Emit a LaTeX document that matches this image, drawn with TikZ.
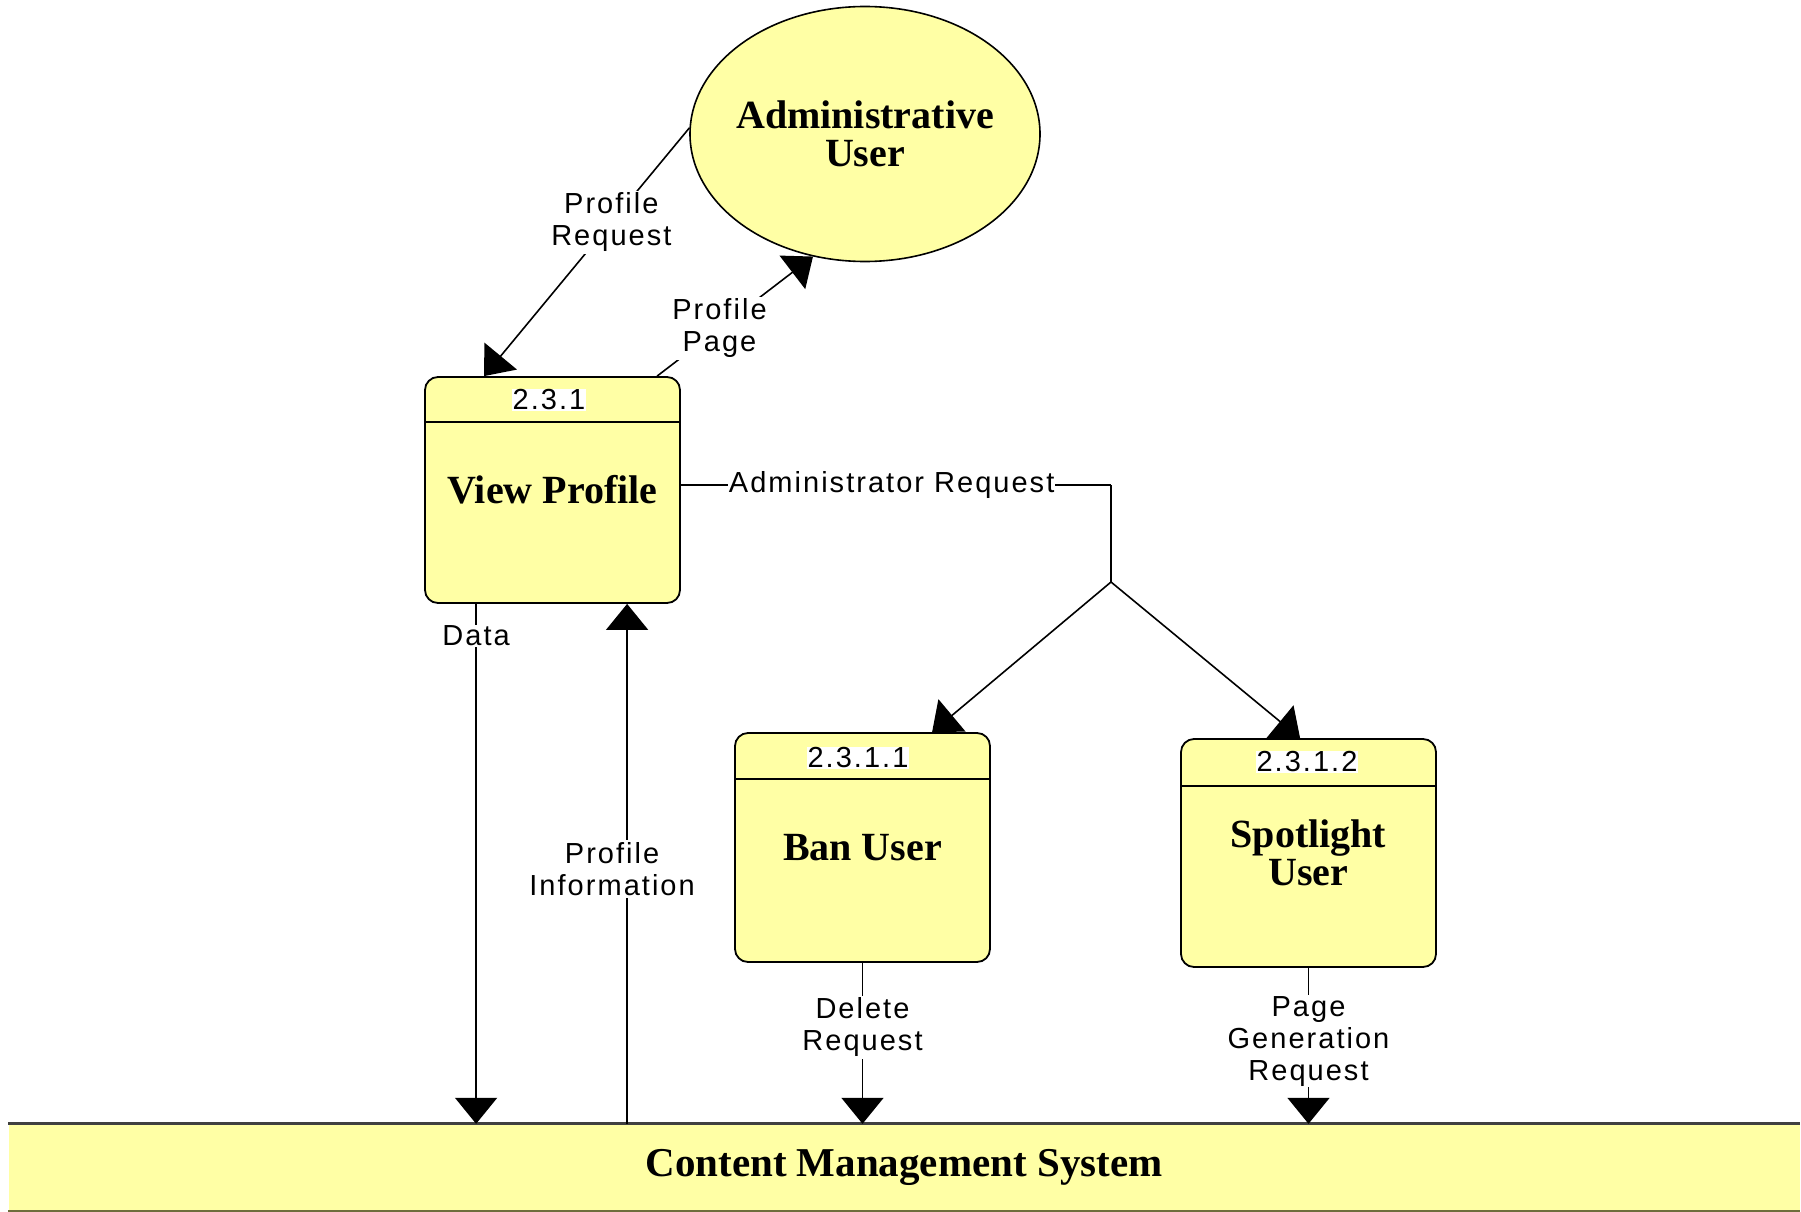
\documentclass[tikz,border=0pt]{standalone}
\usepackage{fontspec}
\setmainfont{Liberation Serif}
\newfontfamily\labfont[LetterSpace=7]{Liberation Sans}
\usetikzlibrary{shapes.geometric,arrows.meta,calc}
\definecolor{dfdyellow}{RGB}{255,255,165}
\definecolor{storeedge}{RGB}{110,110,60}
\begin{document}
\begin{tikzpicture}[x=1pt,y=-1pt,
  titlefont/.style={font=\bfseries\fontsize{40}{38}\selectfont},
  proc/.style={draw=black,line width=1.8pt,fill=dfdyellow,rounded corners=13pt,
    minimum width=255pt,inner sep=0pt,align=center,titlefont},
  procnum/.style={fill=white,inner sep=1pt,font=\labfont\fontsize{29}{29}\selectfont},
  lab/.style={fill=white,inner sep=2pt,align=center,font=\labfont\fontsize{29}{32}\selectfont},
  flow/.style={draw=black,line width=1.6pt},
  tip/.style={-{Triangle[length=26pt,width=42pt]}}
]
\useasboundingbox (0,0) rectangle (1801,1212);

% external entity
\node[ellipse,draw=black,line width=1.6pt,fill=dfdyellow,minimum width=350pt,
  minimum height=255pt,inner sep=0pt] (admin) at (865,134) {};
\node[align=center,titlefont,inner sep=0pt] (admintext) at (admin.center) {Administrative\\User};

% processes
\node[proc,minimum height=226pt] (vp) at (552.5,490) {View Profile};
\draw[line width=1.8pt] ($(vp.north west)+(0,46)$) -- ($(vp.north east)+(0,46)$);
\node[procnum] (vpn) at (549,400) {2.3.1};

\node[proc,minimum height=229pt] (ban) at (862.5,847.5) {Ban User};
\draw[line width=1.8pt] ($(ban.north west)+(0,47)$) -- ($(ban.north east)+(0,47)$);
\node[procnum] (bann) at (858,758) {2.3.1.1};

\node[proc,minimum height=228pt] (spot) at (1308.5,853) {Spotlight\\User};
\draw[line width=1.8pt] ($(spot.north west)+(0,48)$) -- ($(spot.north east)+(0,48)$);
\node[procnum] (spotn) at (1307,762) {2.3.1.2};

% data store
\node[fill=dfdyellow,minimum width=1791pt,minimum height=87pt,inner sep=0pt,
  font=\bfseries\fontsize{41}{41}\selectfont] (cms) at (904,1167.5) {Content Management System};
\draw[line width=3pt,draw=black!75] (cms.north west) -- (cms.north east);
\draw[line width=2pt,draw=storeedge] (cms.south west) -- (cms.south east);

% flows
\draw[flow,tip] (admin.178) -- ($(vp.north west)+(60,0)$)
  node[lab,pos=0.38] {Profile\\Request};
\draw[flow,tip] ($(vp.north west)+(233,0)$) -- (admin.247)
  node[lab,pos=0.40] {Profile\\Page};

\coordinate (jtop) at (1111,485);
\coordinate (jn) at (1111,582);
\draw[flow] ($(vp.east)+(0,-5)$) -- (jtop)
  node[lab,pos=0.49,inner sep=1pt] {Administrator Request};
\draw[flow] (jtop) -- (jn);
\draw[flow,tip] (jn) -- ($(ban.north west)+(198,0)$);
\draw[flow,tip] (jn) -- ($(spot.north west)+(120,0)$);

\coordinate (dataS) at ($(vp.south west)+(52,0)$);
\draw[flow,tip] (dataS) -- (dataS |- cms.north)
  node[lab,pos=0.062,inner sep=1pt] {Data};

\coordinate (piS) at ($(vp.south west)+(203,0)$);
\draw[flow,tip] (piS |- cms.north) -- (piS)
  node[lab,pos=0.49,xshift=-15pt] {Profile\\Information};

\draw[flow,tip] (ban.south) -- (ban.south |- cms.north)
  node[lab,pos=0.40] {Delete\\Request};
\draw[flow,tip] (spot.south) -- (spot.south |- cms.north)
  node[lab,pos=0.47,inner sep=1pt] {Page\\Generation\\Request};
\end{tikzpicture}
\end{document}
